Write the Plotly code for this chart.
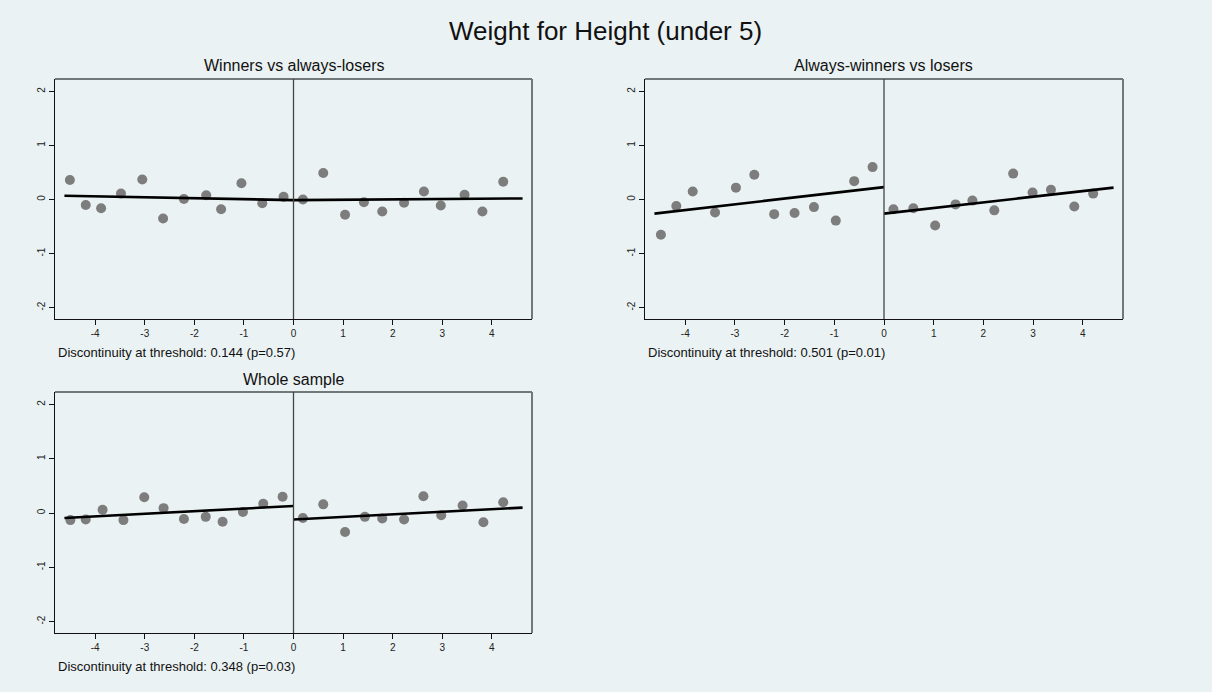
import plotly.graph_objects as go

# ---------------- data ----------------
titles = ["Winners vs always-losers", "Always-winners vs losers", "Whole sample"]
notes = ["Discontinuity at threshold: 0.144 (p=0.57)",
         "Discontinuity at threshold: 0.501 (p=0.01)",
         "Discontinuity at threshold: 0.348 (p=0.03)"]

p1_x = [-4.51, -4.19, -3.88, -3.48, -3.05, -2.63, -2.21, -1.76, -1.46, -1.05, -0.63, -0.20,
        0.19, 0.60, 1.04, 1.42, 1.79, 2.23, 2.63, 2.97, 3.45, 3.81, 4.23]
p1_y = [0.36, -0.10, -0.16, 0.11, 0.37, -0.35, 0.01, 0.08, -0.18, 0.30, -0.07, 0.05,
        0.00, 0.49, -0.28, -0.05, -0.22, -0.06, 0.15, -0.11, 0.09, -0.22, 0.33]

p2_x = [-4.49, -4.18, -3.85, -3.40, -2.98, -2.61, -2.21, -1.80, -1.41, -0.97, -0.60, -0.23,
        0.19, 0.59, 1.03, 1.44, 1.78, 2.22, 2.60, 2.99, 3.36, 3.83, 4.21]
p2_y = [-0.65, -0.12, 0.15, -0.24, 0.22, 0.46, -0.27, -0.25, -0.14, -0.39, 0.34, 0.60,
        -0.18, -0.16, -0.48, -0.09, -0.02, -0.20, 0.48, 0.13, 0.18, -0.13, 0.11]

p3_x = [-4.50, -4.19, -3.85, -3.43, -3.01, -2.62, -2.21, -1.77, -1.43, -1.02, -0.61, -0.22,
        0.19, 0.60, 1.04, 1.44, 1.79, 2.23, 2.62, 2.98, 3.41, 3.83, 4.23]
p3_y = [-0.13, -0.12, 0.06, -0.13, 0.29, 0.09, -0.11, -0.07, -0.16, 0.02, 0.17, 0.30,
        -0.09, 0.16, -0.35, -0.07, -0.10, -0.12, 0.31, -0.04, 0.14, -0.17, 0.20]

# fitted lines (left segment, right segment): endpoints
fit_left_x = [-4.62, 0.0]
fit_right_x = [0.0, 4.62]
p1_fit_left = [0.07, -0.01]
p1_fit_right = [-0.01, 0.02]
p2_fit_left = [-0.26, 0.23]
p2_fit_right = [-0.26, 0.22]
p3_fit_left = [-0.09, 0.13]
p3_fit_right = [-0.12, 0.10]

x_ticks = [-4, -3, -2, -1, 0, 1, 2, 3, 4]
x_ticktext = ["-4", "-3", "-2", "-1", "0", "1", "2", "3", "4"]
y_ticks = [-2, -1, 0, 1, 2]
y_ticktext = ["-2", "-1", "0", "1", "2"]

# ---------------- figure ----------------
W, H = 1212, 692
BG = "#EAF2F3"
FONT = "Liberation Sans, Arial, Helvetica, sans-serif"

panels = [
    dict(x=p1_x, y=p1_y, fl=p1_fit_left, fr=p1_fit_right, px=(55, 532), py=(79, 319)),
    dict(x=p2_x, y=p2_y, fl=p2_fit_left, fr=p2_fit_right, px=(645, 1123), py=(79, 319)),
    dict(x=p3_x, y=p3_y, fl=p3_fit_left, fr=p3_fit_right, px=(55, 532), py=(392, 633)),
]

fig = go.Figure()
annotations = []
shapes = []
layout_axes = {}

for i, p in enumerate(panels):
    n = i + 1
    xa = "x" if n == 1 else f"x{n}"
    ya = "y" if n == 1 else f"y{n}"
    fig.add_trace(go.Scatter(x=p["x"], y=p["y"], mode="markers",
                             marker=dict(color="#7d7d7d", size=10, line=dict(width=0)),
                             xaxis=xa, yaxis=ya, showlegend=False, hoverinfo="x+y"))
    fig.add_trace(go.Scatter(x=fit_left_x, y=p["fl"], mode="lines",
                             line=dict(color="black", width=2.6),
                             xaxis=xa, yaxis=ya, showlegend=False))
    fig.add_trace(go.Scatter(x=fit_right_x, y=p["fr"], mode="lines",
                             line=dict(color="black", width=2.6),
                             xaxis=xa, yaxis=ya, showlegend=False))

    xd = [p["px"][0] / W, p["px"][1] / W]
    yd = [1 - p["py"][1] / H, 1 - p["py"][0] / H]
    xkey = "xaxis" if n == 1 else f"xaxis{n}"
    ykey = "yaxis" if n == 1 else f"yaxis{n}"
    layout_axes[xkey] = dict(domain=xd, anchor=ya, range=[-4.81, 4.81],
                             tickvals=x_ticks, ticktext=x_ticktext,
                             ticks="outside", ticklen=5, tickwidth=1,
                             tickcolor="#111", showgrid=False, zeroline=False,
                             showline=True, linecolor="#111", linewidth=1.3, mirror=False,
                             tickfont=dict(size=10, color="#222", family=FONT))
    layout_axes[ykey] = dict(domain=yd, anchor=xa, range=[-2.21, 2.23],
                             tickvals=y_ticks, ticktext=y_ticktext,
                             ticks="outside", ticklen=5, tickwidth=1,
                             tickcolor="#111", showgrid=False, zeroline=False,
                             showline=True, linecolor="#111", linewidth=1.3, mirror=False,
                             tickangle=-90,
                             tickfont=dict(size=10, color="#222", family=FONT))
    # top and right frame (grey, slightly heavier)
    shapes.append(dict(type="line", xref=f"{xa} domain", yref=f"{ya} domain",
                       x0=0, x1=1, y0=1, y1=1, line=dict(color="#727777", width=2)))
    shapes.append(dict(type="line", xref=f"{xa} domain", yref=f"{ya} domain",
                       x0=1, x1=1, y0=0, y1=1, line=dict(color="#727777", width=2)))
    shapes.append(dict(type="line", xref=xa, yref=f"{ya} domain", x0=0, x1=0, y0=0, y1=1,
                       line=dict(color="#444", width=1.3)))
    cx = (p["px"][0] + p["px"][1]) / 2 / W
    annotations.append(dict(text=titles[i], x=cx, y=1 - (p["py"][0] - 13) / H,
                            xref="paper", yref="paper", showarrow=False,
                            xanchor="center", yanchor="middle",
                            font=dict(size=16, color="#111", family=FONT)))
    annotations.append(dict(text=notes[i], x=(p["px"][0] + 1) / W, y=1 - (p["py"][1] + 33) / H,
                            xref="paper", yref="paper", showarrow=False,
                            xanchor="left", yanchor="middle",
                            font=dict(size=13, color="#111", family=FONT)))

annotations.append(dict(text="Weight for Height (under 5)", x=605.5 / W, y=1 - 31 / H,
                        xref="paper", yref="paper", showarrow=False,
                        xanchor="center", yanchor="middle",
                        font=dict(size=26, color="#111", family=FONT)))

fig.update_layout(width=W, height=H, margin=dict(l=0, r=0, t=0, b=0),
                  paper_bgcolor=BG, plot_bgcolor=BG,
                  annotations=annotations, shapes=shapes,
                  font=dict(family=FONT), **layout_axes)

fig.write_html("out.html", config={"displayModeBar": False},
               post_script="document.body.style.margin='0';")
